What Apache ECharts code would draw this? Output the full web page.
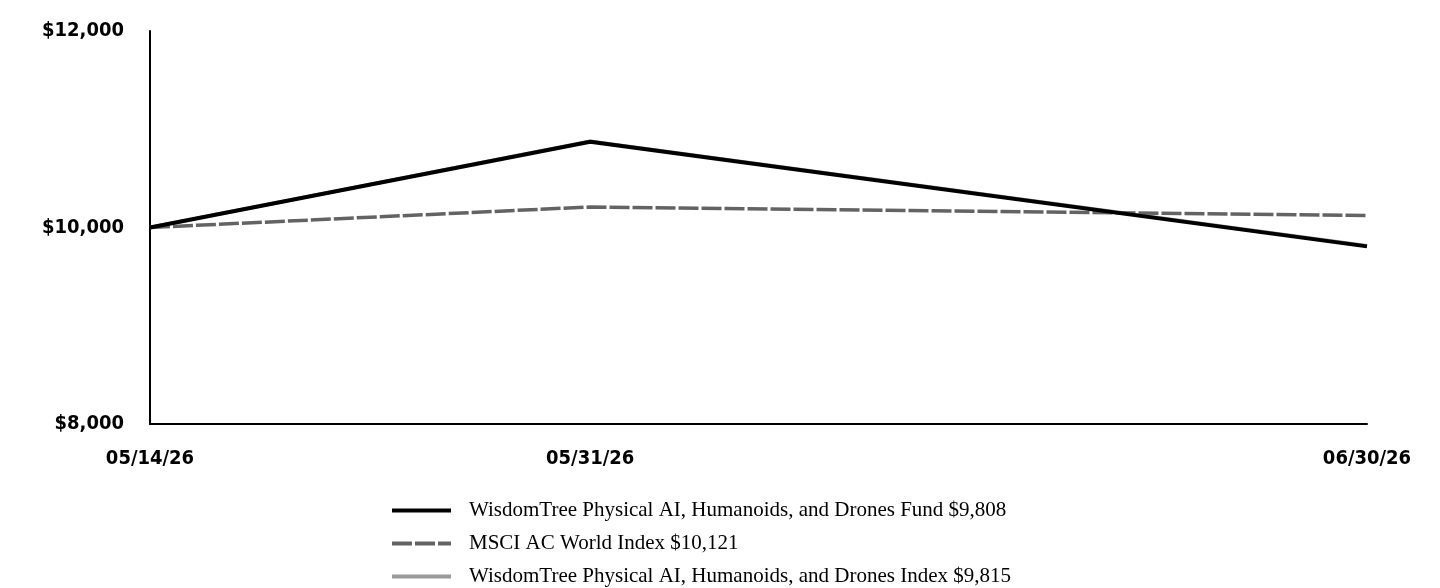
<!DOCTYPE html>
<html>
<head>
<meta charset="utf-8">
<script src="https://cdn.jsdelivr.net/npm/echarts@6/dist/echarts.min.js"></script>
<style>
  html, body { margin: 0; padding: 0; background: #fff; }
  #chart { width: 1440px; height: 588px; }
</style>
</head>
<body>
<div id="chart"></div>
<script>
// dates of the three observations
var dates = ['2026-05-14', '2026-05-31', '2026-06-30'];

// growth of $10,000
var fundValues = [10000, 10873, 9808];
var msciValues = [10000, 10209, 10121];
var indexValues = [10000, 10878, 9815];

var seriesNames = [
  'WisdomTree Physical AI, Humanoids, and Drones Fund $9,808',
  'MSCI AC World Index $10,121',
  'WisdomTree Physical AI, Humanoids, and Drones Index $9,815'
];

var yTicks = [8000, 10000, 12000];

function toTime(s) {
  var p = s.split('-');
  return Date.UTC(+p[0], +p[1] - 1, +p[2]);
}
var times = dates.map(toTime);

function pairs(vals) {
  return vals.map(function (v, i) { return [times[i], v]; });
}

function fmtDate(t) {
  var d = new Date(t);
  var mm = ('0' + (d.getUTCMonth() + 1)).slice(-2);
  var dd = ('0' + d.getUTCDate()).slice(-2);
  var yy = ('' + d.getUTCFullYear()).slice(-2);
  return mm + '/' + dd + '/' + yy;
}

var axisFont = "'DejaVu Sans Condensed', 'DejaVu Sans', sans-serif";

// one legend block per row so they stack like the original
var legends = seriesNames.map(function (name, i) {
  return {
    orient: 'vertical',
    left: 390,
    top: 500 + i * 33,
    padding: 0,
    itemWidth: 59,
    itemHeight: 14,
    itemStyle: { color: 'transparent', borderWidth: 0, opacity: 0 },
    lineStyle: { width: 4 },
    textStyle: {
      fontFamily: "'Liberation Serif', 'Times New Roman', serif",
      fontSize: 21,
      color: '#000',
      padding: [0, 0, 0, 13]
    },
    data: [name]
  };
});

var chart = echarts.init(document.getElementById('chart'));
chart.setOption({
  animation: false,
  grid: { left: 150, right: 73, top: 31, bottom: 164, containLabel: false },
  xAxis: {
    type: 'value',
    min: times[0],
    max: times[times.length - 1],
    axisLine: { show: true, lineStyle: { color: '#000', width: 2 } },
    axisTick: { show: false },
    splitLine: { show: false },
    axisLabel: {
      customValues: times,
      formatter: function (v) { return fmtDate(v); },
      color: '#000',
      fontFamily: axisFont,
      fontWeight: 'bold',
      fontSize: 20,
      margin: 25
    }
  },
  yAxis: {
    type: 'value',
    min: 8000,
    max: 12000,
    interval: 2000,
    axisLine: { show: true, lineStyle: { color: '#000', width: 2 } },
    axisTick: { show: false },
    splitLine: { show: false },
    axisLabel: {
      customValues: yTicks,
      formatter: function (v) { return '$' + v.toLocaleString('en-US'); },
      color: '#000',
      fontFamily: axisFont,
      fontWeight: 'bold',
      fontSize: 20,
      margin: 26
    }
  },
  legend: legends,
  series: [
    {
      name: seriesNames[2],
      type: 'line',
      symbol: 'none',
      z: 1,
      lineStyle: { color: '#9a9a9a', width: 3.5 },
      itemStyle: { color: '#9a9a9a' },
      data: pairs(indexValues)
    },
    {
      name: seriesNames[1],
      type: 'line',
      symbol: 'none',
      z: 2,
      lineStyle: { color: '#636363', width: 3.5, type: [20, 3] },
      itemStyle: { color: '#636363' },
      data: pairs(msciValues)
    },
    {
      name: seriesNames[0],
      type: 'line',
      symbol: 'none',
      z: 3,
      lineStyle: { color: '#000', width: 4 },
      itemStyle: { color: '#000' },
      data: pairs(fundValues)
    }
  ]
});
</script>
</body>
</html>
